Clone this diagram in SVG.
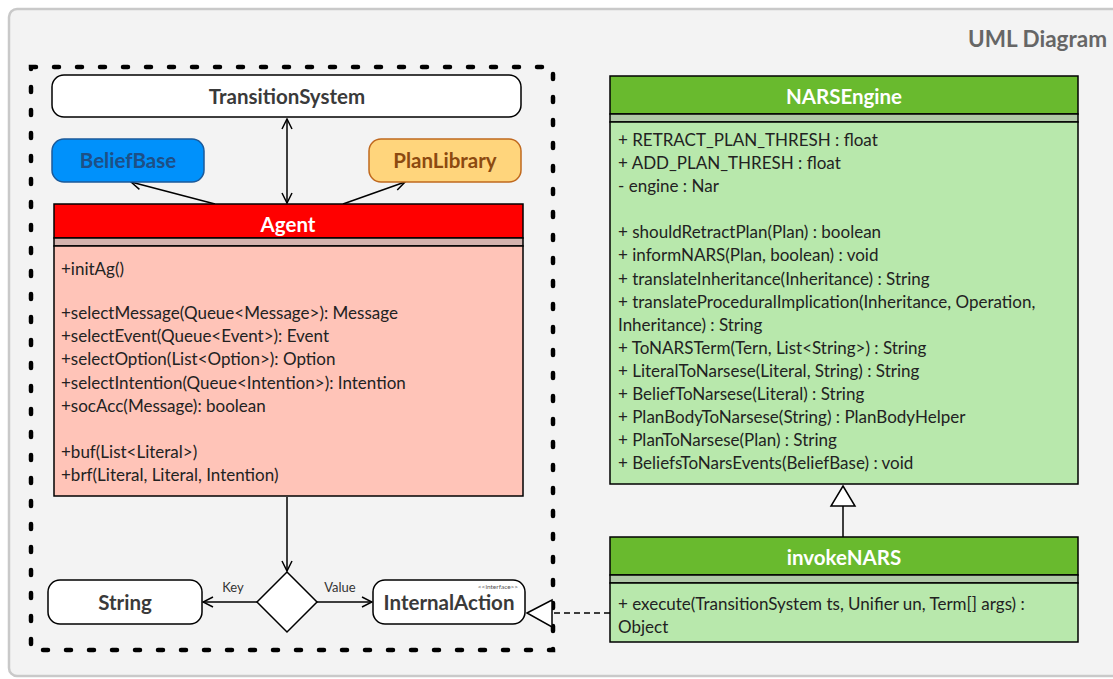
<svg xmlns="http://www.w3.org/2000/svg" width="1113" height="679" viewBox="0 0 1113 679">
<style>
text{font-family:Lato,"Open Sans","Liberation Sans",sans-serif;fill:#222}
.t{font-weight:bold;font-size:20.5px;text-anchor:middle;fill:#3a3a3a}
.w{font-weight:bold;font-size:20.5px;text-anchor:middle;fill:#fff}
.m{font-size:17px}
.c{fill:none;stroke:#000;stroke-width:1.5}
.box{fill:#fff;stroke:#000;stroke-width:1.5}
.lbl{font-size:13px;text-anchor:middle;fill:#333}
</style>
<defs>
<marker id="open" viewBox="0 0 12 12" refX="11" refY="6" markerWidth="12" markerHeight="12" markerUnits="userSpaceOnUse" orient="auto-start-reverse">
<path d="M1,1 L11,6 L1,11" fill="none" stroke="#000" stroke-width="1.5"/>
</marker>
</defs>
<rect x="9" y="9" width="1120" height="667" rx="8" fill="#f3f3f3" stroke="#c9c9c9" stroke-width="2.5"/>
<text x="1107" y="47" style="font-weight:bold;font-size:22.5px;text-anchor:end;fill:#666">UML Diagram</text>
<rect x="31" y="67" width="522" height="583" fill="none" stroke="#000" stroke-width="4.5" stroke-dasharray="5 18" stroke-linecap="round"/>

<g id="connectors">
<line class="c" x1="287" y1="119" x2="287" y2="203" marker-start="url(#open)" marker-end="url(#open)"/>
<line class="c" x1="215" y1="204" x2="131" y2="182" marker-end="url(#open)"/>
<line class="c" x1="343" y1="204" x2="405" y2="182" marker-end="url(#open)"/>
<line class="c" x1="287" y1="497" x2="287" y2="571" marker-end="url(#open)"/>
<line class="c" x1="257" y1="602" x2="203" y2="602" marker-end="url(#open)"/>
<line class="c" x1="317" y1="602" x2="372" y2="602" marker-end="url(#open)"/>
<text class="lbl" x="233" y="592">Key</text>
<text class="lbl" x="340" y="592">Value</text>
<line x1="610" y1="613" x2="552" y2="613" stroke="#000" stroke-width="1.5" stroke-dasharray="6 4"/>
<path d="M527,613 L552,600 L552,627 Z" fill="#fff" stroke="#000" stroke-width="1.5"/>
<line x1="843" y1="537" x2="843" y2="506" stroke="#000" stroke-width="1.5"/>
<path d="M843,486 L855,506 L831,506 Z" fill="#fff" stroke="#000" stroke-width="1.5"/>
</g>

<g id="TransitionSystem">
<rect class="box" x="52" y="75" width="469" height="42" rx="12"/>
<text class="t" x="287" y="104">TransitionSystem</text>
</g>
<g id="BeliefBase">
<rect x="52" y="139" width="152" height="43" rx="12" fill="#0091fb" stroke="#1b5a9a" stroke-width="1.5"/>
<text class="t" x="128" y="168" style="fill:#1d4f86">BeliefBase</text>
</g>
<g id="PlanLibrary">
<rect x="369" y="139" width="152" height="43" rx="12" fill="#ffd57c" stroke="#c0691e" stroke-width="1.5"/>
<text class="t" x="445" y="168" style="fill:#8c4a10">PlanLibrary</text>
</g>
<g id="Agent">
<rect x="54" y="204" width="469" height="34" fill="#ff0000" stroke="#000" stroke-width="1.5"/>
<text class="w" x="288" y="232">Agent</text>
<rect x="54" y="238" width="469" height="8" fill="#d4b3ae" stroke="#000" stroke-width="1.5"/>
<rect x="54" y="246" width="469" height="250" fill="#ffc4b8" stroke="#000" stroke-width="1.5"/>
<text class="m" x="61" y="275">+initAg()</text>
<text class="m" x="61" y="319">+selectMessage(Queue&lt;Message&gt;): Message</text>
<text class="m" x="61" y="342">+selectEvent(Queue&lt;Event&gt;): Event</text>
<text class="m" x="61" y="365">+selectOption(List&lt;Option&gt;): Option</text>
<text class="m" x="61" y="389">+selectIntention(Queue&lt;Intention&gt;): Intention</text>
<text class="m" x="61" y="412">+socAcc(Message): boolean</text>
<text class="m" x="61" y="458">+buf(List&lt;Literal&gt;)</text>
<text class="m" x="61" y="481">+brf(Literal, Literal, Intention)</text>
</g>
<g id="Diamond">
<path d="M287,572 L317,602 L287,632 L257,602 Z" fill="#fff" stroke="#000" stroke-width="1.5"/>
</g>
<g id="String">
<rect class="box" x="48" y="580" width="154" height="44" rx="12"/>
<text class="t" x="125" y="610">String</text>
</g>
<g id="InternalAction">
<rect class="box" x="373" y="580" width="152" height="44" rx="12"/>
<text class="t" x="449" y="610">InternalAction</text>
<text x="498" y="589" style="font-size:6.5px;text-anchor:middle;fill:#555">&lt;&lt;interface&gt;&gt;</text>
</g>
<g id="NARSEngine">
<rect x="610" y="76" width="468" height="38" fill="#69ba2e" stroke="#000" stroke-width="1.5"/>
<text class="w" x="844" y="104">NARSEngine</text>
<rect x="610" y="114" width="468" height="8" fill="#b0c8a8" stroke="#000" stroke-width="1.5"/>
<rect x="610" y="122" width="468" height="362" fill="#b8e8ac" stroke="#000" stroke-width="1.5"/>
<text class="m" x="618" y="146">+ RETRACT_PLAN_THRESH : float</text>
<text class="m" x="618" y="169">+ ADD_PLAN_THRESH : float</text>
<text class="m" x="618" y="192">- engine : Nar</text>
<text class="m" x="618" y="238">+ shouldRetractPlan(Plan) : boolean</text>
<text class="m" x="618" y="261">+ informNARS(Plan, boolean) : void</text>
<text class="m" x="618" y="285">+ translateInheritance(Inheritance) : String</text>
<text class="m" x="618" y="308">+ translateProceduralImplication(Inheritance, Operation,</text>
<text class="m" x="618" y="331">Inheritance) : String</text>
<text class="m" x="618" y="354">+ ToNARSTerm(Tern, List&lt;String&gt;) : String</text>
<text class="m" x="618" y="377">+ LiteralToNarsese(Literal, String) : String</text>
<text class="m" x="618" y="400">+ BeliefToNarsese(Literal) : String</text>
<text class="m" x="618" y="423">+ PlanBodyToNarsese(String) : PlanBodyHelper</text>
<text class="m" x="618" y="446">+ PlanToNarsese(Plan) : String</text>
<text class="m" x="618" y="469">+ BeliefsToNarsEvents(BeliefBase) : void</text>
</g>
<g id="invokeNARS">
<rect x="610" y="537" width="468" height="38" fill="#69ba2e" stroke="#000" stroke-width="1.5"/>
<text class="w" x="844" y="565">invokeNARS</text>
<rect x="610" y="575" width="468" height="8" fill="#b0c8a8" stroke="#000" stroke-width="1.5"/>
<rect x="610" y="583" width="468" height="59" fill="#b8e8ac" stroke="#000" stroke-width="1.5"/>
<text class="m" x="618" y="610">+ execute(TransitionSystem ts, Unifier un, Term[] args) :</text>
<text class="m" x="618" y="633">Object</text>
</g>
</svg>
